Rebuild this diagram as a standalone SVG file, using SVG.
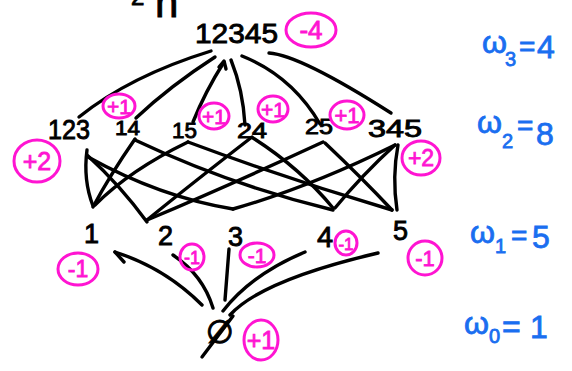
<svg xmlns="http://www.w3.org/2000/svg" width="572" height="371" viewBox="0 0 572 371">
  <style>
    .lbl { font-family: "Liberation Sans", Arial, sans-serif; fill: #000; stroke: #000; stroke-width: 0.9; }
    .edge { fill: none; stroke: #000; stroke-width: 3.4; stroke-linecap: round; stroke-linejoin: round; }
    .ring { fill: none; stroke: #ff14d2; stroke-width: 3; }
    .mark { font-family: "Liberation Sans", Arial, sans-serif; fill: #ff14d2; stroke: #ff14d2; stroke-width: 0.8; text-anchor: middle; }
    .w { font-family: "Liberation Sans", Arial, sans-serif; fill: #1a6ef0; stroke: #1a6ef0; stroke-width: 0.8; }
  </style>
  <rect width="572" height="371" fill="#fff"/>

  <!-- heading, cut off at the top edge -->
  <g id="heading">
    <text class="lbl" x="131" y="5" font-size="24">2</text>
    <text class="lbl" x="155" y="17" font-size="42">n</text>
  </g>

  <!-- connectors between lattice levels -->
  <g id="connectors">
    <!-- top set to pairs / triples -->
    <path class="edge" d="M211,51 Q130,76 79,117"/>
    <path class="edge" d="M215,57 Q170,86 136,118"/>
    <path class="edge" d="M224,62 Q205,92 193,122"/>
    <path class="edge" d="M219,67 L224,61 L226,69"/>
    <path class="edge" d="M231,60 Q243,90 245,125"/>
    <path class="edge" d="M242,56 Q292,76 320,124"/>
    <path class="edge" d="M269,53 Q300,55 391,113"/>
    <!-- pairs / triples to singletons -->
    <path class="edge" d="M87,150 Q83,180 93,206"/>
    <path class="edge" d="M87,155 Q120,185 147,222"/>
    <path class="edge" d="M88,157 Q160,197 233,209"/>
    <path class="edge" d="M135,139 Q110,175 93,207"/>
    <path class="edge" d="M135,140 Q230,185 333,210"/>
    <path class="edge" d="M188,142 Q130,170 95,205"/>
    <path class="edge" d="M188,142 Q290,180 392,210"/>
    <path class="edge" d="M252,137 Q190,185 147,220"/>
    <path class="edge" d="M253,138 Q300,168 333,208"/>
    <path class="edge" d="M323,142 Q230,185 147,220"/>
    <path class="edge" d="M325,143 Q362,178 392,210"/>
    <path class="edge" d="M395,145 Q310,187 233,209"/>
    <path class="edge" d="M395,145 Q362,175 335,208"/>
    <path class="edge" d="M398,145 Q392,177 397,210"/>
    <!-- empty set to singletons -->
    <path class="edge" d="M202,305 Q165,268 115,252"/>
    <path class="edge" d="M115,252 L124,262"/>
    <path class="edge" d="M213,308 Q203,275 173,255"/>
    <path class="edge" d="M225,300 L229,249"/>
    <path class="edge" d="M223,311 Q252,274 305,252"/>
    <path class="edge" d="M230,315 Q262,280 378,253"/>
  </g>

  <!-- level 3 -->
  <g id="n12345">
    <text class="lbl" x="195" y="43" font-size="28" textLength="83" lengthAdjust="spacingAndGlyphs">12345</text>
    <ellipse class="ring" cx="311" cy="30" rx="25" ry="17"/>
    <text class="mark" x="311" y="39" font-size="26">-4</text>
  </g>

  <!-- level 2 -->
  <g id="n123">
    <text class="lbl" x="48" y="139" font-size="28" textLength="42" lengthAdjust="spacingAndGlyphs">123</text>
    <ellipse class="ring" cx="37" cy="161" rx="23" ry="21"/>
    <text class="mark" x="37" y="170" font-size="25">+2</text>
  </g>
  <g id="n14">
    <text class="lbl" x="115" y="135" font-size="20" textLength="25" lengthAdjust="spacingAndGlyphs">14</text>
    <ellipse class="ring" cx="119" cy="106" rx="16" ry="12"/>
    <text class="mark" x="119" y="114" font-size="21">+1</text>
  </g>
  <g id="n15">
    <text class="lbl" x="172" y="138" font-size="22" textLength="25" lengthAdjust="spacingAndGlyphs">15</text>
    <ellipse class="ring" cx="214" cy="116" rx="15" ry="13"/>
    <text class="mark" x="214" y="124" font-size="21">+1</text>
  </g>
  <g id="n24">
    <text class="lbl" x="237" y="138" font-size="22" textLength="30" lengthAdjust="spacingAndGlyphs">24</text>
    <ellipse class="ring" cx="273" cy="109" rx="15" ry="13"/>
    <text class="mark" x="273" y="117" font-size="21">+1</text>
  </g>
  <g id="n25">
    <text class="lbl" x="305" y="134" font-size="22" textLength="28" lengthAdjust="spacingAndGlyphs">25</text>
    <ellipse class="ring" cx="347" cy="115" rx="17" ry="14"/>
    <text class="mark" x="347" y="123" font-size="22">+1</text>
  </g>
  <g id="n345">
    <text class="lbl" x="368" y="137" font-size="24" textLength="54" lengthAdjust="spacingAndGlyphs">345</text>
    <ellipse class="ring" cx="421" cy="158" rx="19" ry="17"/>
    <text class="mark" x="421" y="166" font-size="23">+2</text>
  </g>

  <!-- level 1 -->
  <g id="n1">
    <text class="lbl" x="84" y="243" font-size="27">1</text>
    <ellipse class="ring" cx="78" cy="269" rx="20" ry="16"/>
    <text class="mark" x="78" y="277" font-size="23">-1</text>
  </g>
  <g id="n2">
    <text class="lbl" x="158" y="245" font-size="27">2</text>
    <ellipse class="ring" cx="192" cy="257" rx="12" ry="13"/>
    <text class="mark" x="192" y="264" font-size="18">-1</text>
  </g>
  <g id="n3">
    <text class="lbl" x="228" y="246" font-size="27">3</text>
    <ellipse class="ring" cx="257" cy="255" rx="17" ry="12"/>
    <text class="mark" x="257" y="263" font-size="21">-1</text>
  </g>
  <g id="n4">
    <text class="lbl" x="317" y="247" font-size="29">4</text>
    <ellipse class="ring" cx="346" cy="243" rx="11" ry="12"/>
    <text class="mark" x="346" y="250" font-size="17">-1</text>
  </g>
  <g id="n5">
    <text class="lbl" x="393" y="240" font-size="27">5</text>
    <ellipse class="ring" cx="425" cy="258" rx="17" ry="17"/>
    <text class="mark" x="425" y="266" font-size="22">-1</text>
  </g>

  <!-- level 0 -->
  <g id="n0">
    <text class="lbl" x="220" y="343" font-size="32" text-anchor="middle" style="font-family: 'DejaVu Sans', sans-serif">∅</text>
    <path class="edge" d="M202,357 L233,316"/>
    <ellipse class="ring" cx="261" cy="340" rx="17" ry="20"/>
    <text class="mark" x="261" y="349" font-size="25">+1</text>
  </g>

  <!-- level widths -->
  <g id="widths">
    <text class="w" font-size="32"><tspan x="482" y="53">ω</tspan><tspan x="505" y="66" font-size="20">3</tspan><tspan x="519" y="56" font-size="28">=</tspan><tspan x="537" y="58">4</tspan></text>
    <text class="w" font-size="32"><tspan x="477" y="133">ω</tspan><tspan x="502" y="148" font-size="20">2</tspan><tspan x="517" y="135" font-size="28">=</tspan><tspan x="536" y="145">8</tspan></text>
    <text class="w" font-size="32"><tspan x="470" y="243">ω</tspan><tspan x="495" y="253" font-size="20">1</tspan><tspan x="511" y="245" font-size="28">=</tspan><tspan x="532" y="248">5</tspan></text>
    <text class="w" font-size="32"><tspan x="464" y="334">ω</tspan><tspan x="489" y="343" font-size="20">0</tspan><tspan x="502" y="337" font-size="32">=</tspan><tspan x="530" y="338">1</tspan></text>
  </g>
</svg>
